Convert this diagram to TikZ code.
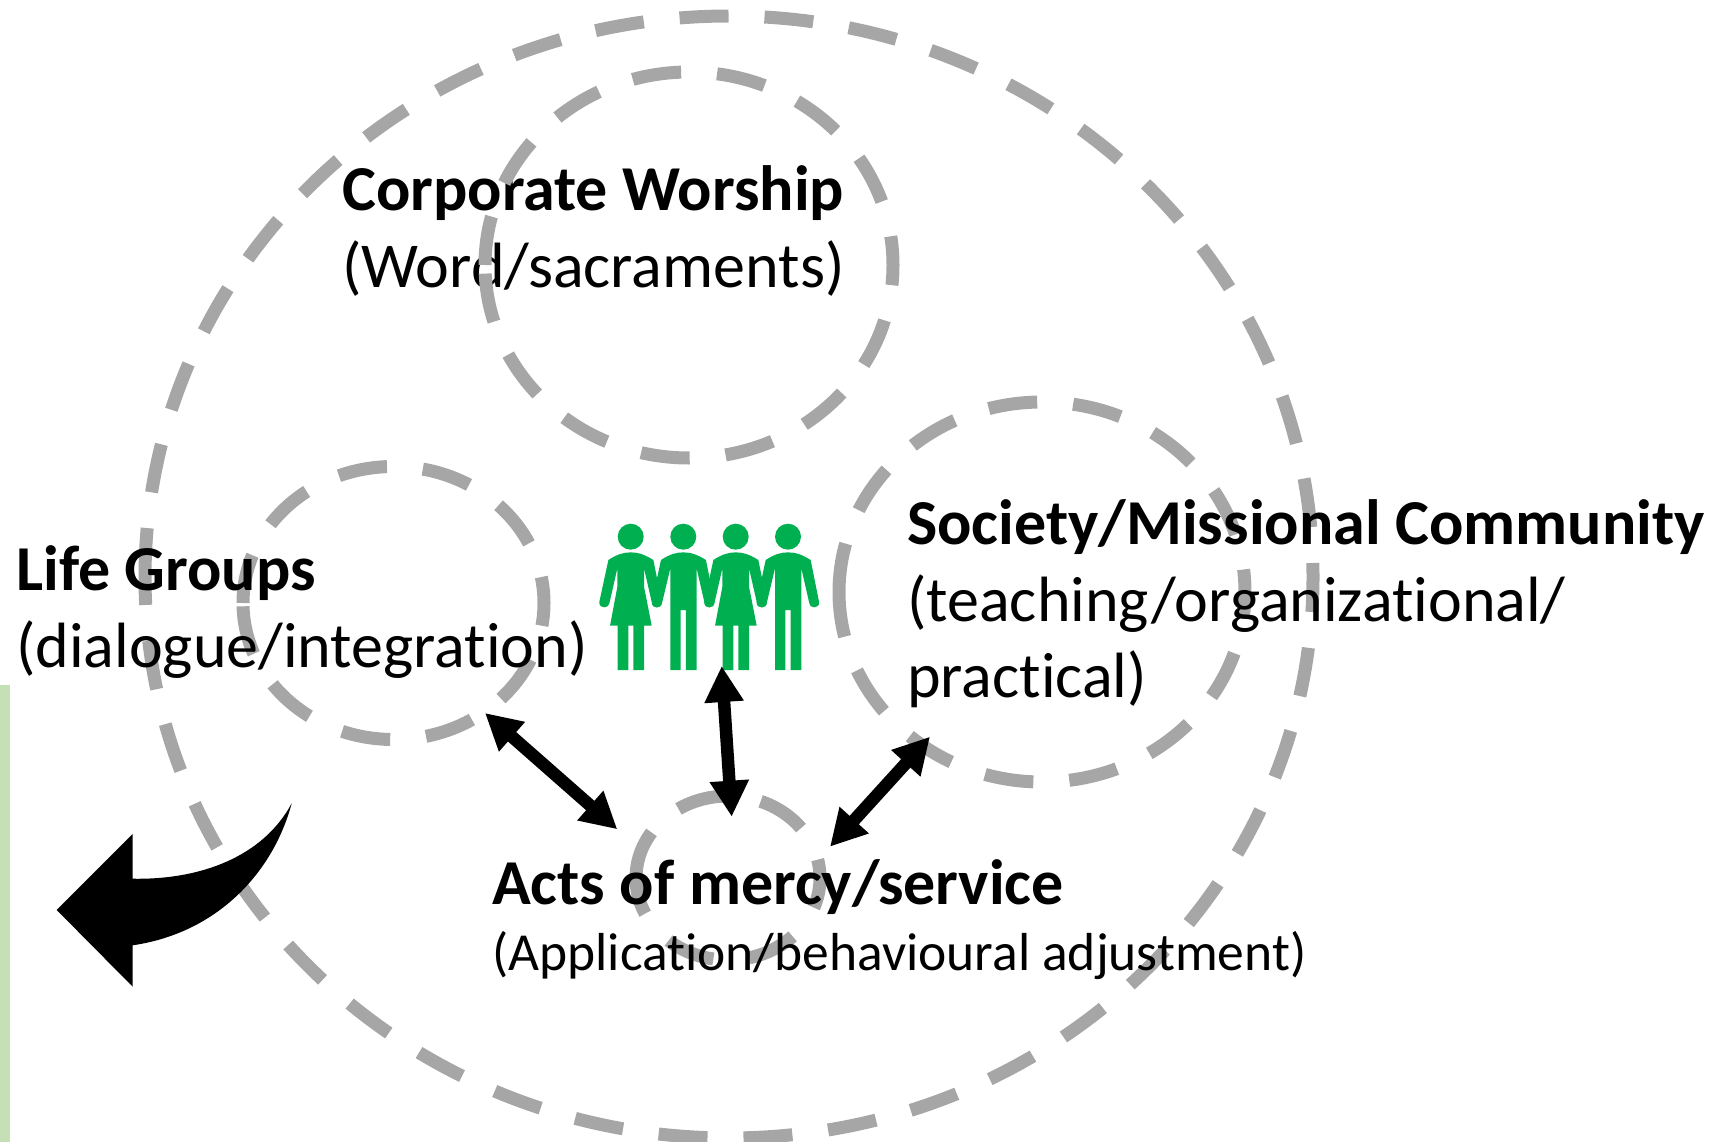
\documentclass[tikz,border=0pt]{standalone}
\usepackage{fontspec}
\setmainfont[RawFeature={-liga,-clig,-dlig}]{Carlito}
\usetikzlibrary{arrows.meta}
\definecolor{ringgray}{HTML}{A6A6A6}
\definecolor{figgreen}{HTML}{00B050}
\definecolor{barblue}{HTML}{C5E0B4}
\tikzset{
  ringline/.style={draw=ringgray,line width=13pt,dash pattern=on 49pt off 36pt},
  headtext/.style={anchor=base west,inner sep=0pt,font=\fontsize{64}{70}\selectfont\bfseries},
  bodytext/.style={anchor=base west,inner sep=0pt,font=\fontsize{64}{70}\selectfont},
  smalltext/.style={anchor=base west,inner sep=0pt,font=\fontsize{53.5}{60}\selectfont},
  twoway/.style={line width=12.5pt,{Triangle[length=36pt,width=37pt]}-{Triangle[length=36pt,width=37pt]}},
  woman/.pic={
    \fill[figgreen,x=0.3333pt,y=-0.3333pt] (0,0) circle[radius=39];
    \fill[figgreen,x=0.3333pt,y=-0.3333pt] (-67,70) .. controls (-40,52) and (-20,47) .. (0,47) .. controls (20,47) and (40,52) .. (68,70) -- (93,195) .. controls (95,208) and (85,212) .. (78,212) .. controls (70,212) and (65,207) .. (64,200) -- (40,95) -- (40,150) -- (63,267) -- (40,267) -- (40,400) -- (8,400) -- (8,267) -- (-7,267) -- (-7,400) -- (-39,400) -- (-39,267) -- (-62,267) -- (-40,150) -- (-40,95) -- (-64,200) .. controls (-65,207) and (-71,212) .. (-79,212) .. controls (-86,212) and (-96,208) .. (-94,195) -- cycle;
  },
  man/.pic={
    \fill[figgreen,x=0.3333pt,y=-0.3333pt] (0,0) circle[radius=39];
    \fill[figgreen,x=0.3333pt,y=-0.3333pt] (-67,70) .. controls (-40,52) and (-20,47) .. (0,47) .. controls (20,47) and (40,52) .. (68,70) -- (93,195) .. controls (95,208) and (85,212) .. (78,212) .. controls (70,212) and (65,207) .. (64,200) -- (40,95) -- (40,400) -- (8,400) -- (8,220) -- (-8,220) -- (-8,400) -- (-39,400) -- (-39,95) -- (-64,200) .. controls (-65,207) and (-71,212) .. (-79,212) .. controls (-86,212) and (-96,208) .. (-94,195) -- cycle;
  }
}
\begin{document}
\begin{tikzpicture}[x=1pt,y=-1pt]
\useasboundingbox (0,0) rectangle (1732,1142);
\fill[barblue] (0,685) rectangle (10,1142);
% rings
\draw[ringline] (145,577) arc[start angle=180,end angle=-180,x radius=584pt,y radius=561pt];
\draw[ringline] (243,603) arc[start angle=180,end angle=-180,x radius=150.5pt,y radius=136.5pt];
\draw[ringline] (839,592) arc[start angle=180,end angle=-180,x radius=203pt,y radius=190pt];
\draw[ringline] (636,878) arc[start angle=180,end angle=-180,x radius=92pt,y radius=82pt];
% texts
\node[headtext] (cw) at (342,211) {Corporate Worship};
\node[bodytext] (ws) at (342,287) {(Word/sacraments)};
\node[headtext] (lg) at (16,590) {Life Groups};
\node[bodytext] (di) at (16,667) {(dialogue/integration)};
\node[headtext] (sm) at (907,544) {Society/Missional Community};
\node[bodytext] (to) at (907,621) {(teaching/organizational/};
\node[bodytext] (pr) at (907,697) {practical)};
\node[headtext] (am) at (492,904.5) {Acts of mercy/service};
\node[smalltext] (ab) at (492,970) {(Application/behavioural adjustment)};
\draw[ringline] (485,265) arc[start angle=180,end angle=-180,x radius=204pt,y radius=193pt];
% people
\pic at (630.7,536.7) {woman};
\pic at (683.3,536.7) {man};
\pic at (735.7,536.7) {woman};
\pic at (788,536.7) {man};
% arrows
\coordinate (a1s) at (485,713);
\coordinate (a1e) at (617.3,829.3);
\coordinate (a2s) at (721.7,666);
\coordinate (a2e) at (731.7,816.7);
\coordinate (a3s) at (930,736.7);
\coordinate (a3e) at (830,846.7);
\draw[twoway] (a1s) -- (a1e);
\draw[twoway] (a2s) -- (a2e);
\draw[twoway] (a3s) -- (a3e);
% curved arrow
\fill[black] (56.7,910) -- (132.7,834) -- (132.7,878.7) .. controls (200,880) and (263,857) .. (291.7,803.3) .. controls (273,873) and (217,933) .. (132.7,945.3) -- (132.7,986.7) -- cycle;
\end{tikzpicture}
\end{document}
